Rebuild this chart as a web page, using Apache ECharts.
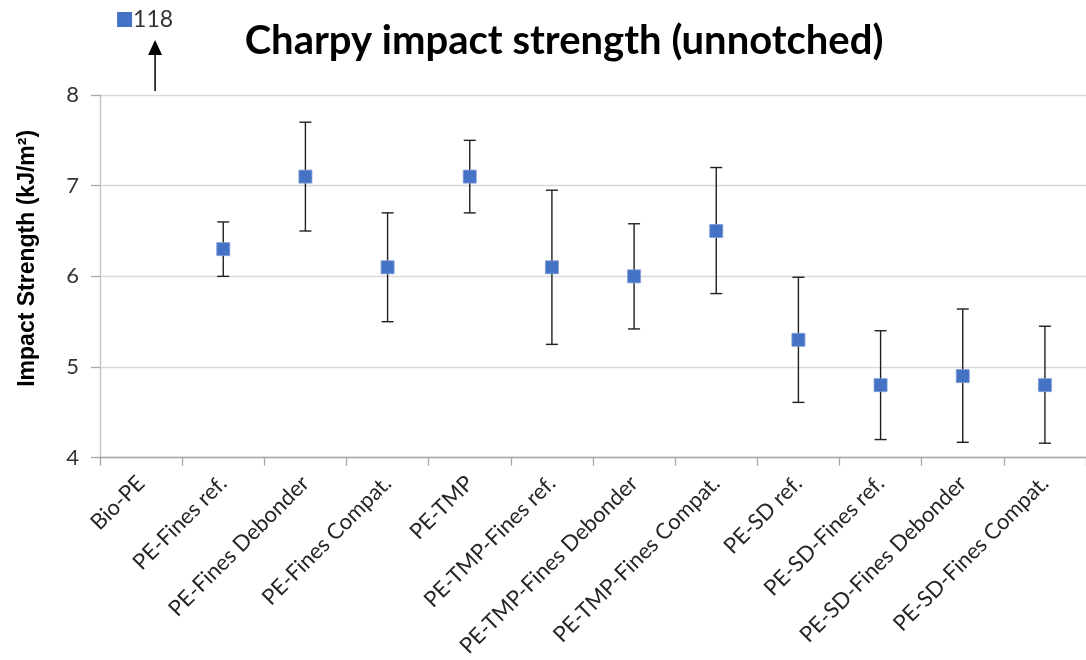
<!DOCTYPE html>
<html>
<head>
<meta charset="utf-8">
<script src="https://cdn.jsdelivr.net/npm/echarts@6/dist/echarts.min.js"></script>
<style>
  html, body { margin: 0; padding: 0; background: #fff; }
  #main { width: 1086px; height: 660px; }
</style>
</head>
<body>
<div id="main"></div>
<script>
// data (kJ/m2); Bio-PE is far off the scale
const categories = [
  "Bio-PE", "PE-Fines ref.", "PE-Fines Debonder", "PE-Fines Compat.",
  "PE-TMP", "PE-TMP-Fines ref.", "PE-TMP-Fines Debonder", "PE-TMP-Fines Compat.",
  "PE-SD ref.", "PE-SD-Fines ref.", "PE-SD-Fines Debonder", "PE-SD-Fines Compat."
];
const strength = [118, 6.3, 7.1, 6.1, 7.1, 6.1, 6.0, 6.5, 5.3, 4.8, 4.9, 4.8];
const errLow = [null, 6.0, 6.5, 5.5, 6.7, 5.25, 5.42, 5.81, 4.61, 4.2, 4.17, 4.16];
const errHigh = [null, 6.6, 7.7, 6.7, 7.5, 6.95, 6.58, 7.2, 5.99, 5.4, 5.64, 5.45];
const yMin = 4;
const yMax = 8;
const yStep = 1;

const blue = "#4472C4";
const labelFont = "Lato";

const errData = [];
for (let i = 0; i < categories.length; i++) {
  if (errLow[i] != null) errData.push([i, errLow[i], errHigh[i]]);
}

var myChart = echarts.init(document.getElementById("main"));

var option = {
  animation: false,
  title: {
    text: "Charpy impact strength (unnotched)",
    left: 559,
    textAlign: "center",
    top: 16,
    textStyle: { fontFamily: labelFont, fontWeight: "bold", fontSize: 40, color: "#000" }
  },
  grid: { left: 100, top: 95, width: 995, height: 363.5, containLabel: false },
  xAxis: {
    type: "category",
    data: categories,
    boundaryGap: true,
    axisLine: { lineStyle: { color: "#a6a6a6", width: 1.3 } },
    axisTick: { show: true, length: 8, lineStyle: { color: "#a6a6a6", width: 1.3 } },
    axisLabel: {
      rotate: 45, interval: 0, margin: 22,
      fontFamily: labelFont, fontSize: 22, color: "#262626"
    },
    splitLine: { show: false }
  },
  yAxis: {
    type: "value",
    min: yMin, max: yMax, interval: yStep,
    name: "Impact Strength (kJ/m\u00b2)",
    nameLocation: "middle",
    nameRotate: 90,
    nameGap: 61,
    nameTextStyle: {
      fontFamily: "Liberation Sans", fontWeight: "bold", fontSize: 23, color: "#000",
      padding: [0, 0, 0, 36]
    },
    axisLine: { show: true, lineStyle: { color: "#bfbfbf", width: 1.3 } },
    axisTick: { show: true, length: 9, lineStyle: { color: "#a6a6a6", width: 1.3 } },
    axisLabel: { margin: 21, fontFamily: labelFont, fontSize: 22, color: "#333" },
    splitLine: { lineStyle: { color: "#d9d9d9", width: 1.3 } }
  },
  series: [
    {
      type: "custom",
      data: errData,
      encode: { x: 0, y: [1, 2] },
      z: 2,
      renderItem: function (params, api) {
        const idx = api.value(0);
        const lo = api.coord([idx, api.value(1)]);
        const hi = api.coord([idx, api.value(2)]);
        const cap = 6;
        const st = { stroke: "#1f1f1f", lineWidth: 1.4 };
        return {
          type: "group",
          children: [
            { type: "line", shape: { x1: hi[0], y1: hi[1], x2: lo[0], y2: lo[1] }, style: st },
            { type: "line", shape: { x1: hi[0] - cap, y1: hi[1], x2: hi[0] + cap, y2: hi[1] }, style: st },
            { type: "line", shape: { x1: lo[0] - cap, y1: lo[1], x2: lo[0] + cap, y2: lo[1] }, style: st }
          ]
        };
      }
    },
    {
      type: "scatter",
      data: strength,
      clip: true,
      z: 3,
      symbol: "rect",
      symbolSize: 13,
      itemStyle: { color: blue, borderColor: "#7c9bd6", borderWidth: 0.8, opacity: 1 }
    }
  ]
};

myChart.setOption(option);

// off-scale Bio-PE value: arrow pointing up plus its value
const bx = myChart.convertToPixel({ xAxisIndex: 0 }, categories[0]);
const yTop = myChart.convertToPixel({ yAxisIndex: 0 }, yMax);
const ax = bx + 14;
myChart.setOption({
  graphic: [
    { type: "line", shape: { x1: ax, y1: yTop - 4, x2: ax, y2: yTop - 42 }, style: { stroke: "#000", lineWidth: 1.5 } },
    { type: "polygon", shape: { points: [[ax, yTop - 55], [ax - 7, yTop - 40], [ax + 7, yTop - 40]] }, style: { fill: "#000" } },
    { type: "rect", shape: { x: bx - 24, y: yTop - 83, width: 15, height: 15 }, style: { fill: blue } },
    {
      type: "text", x: bx - 8, y: yTop - 75,
      style: { text: String(strength[0]), fontFamily: labelFont, fontSize: 23, fill: "#333", verticalAlign: "middle" }
    }
  ]
});
</script>
</body>
</html>
